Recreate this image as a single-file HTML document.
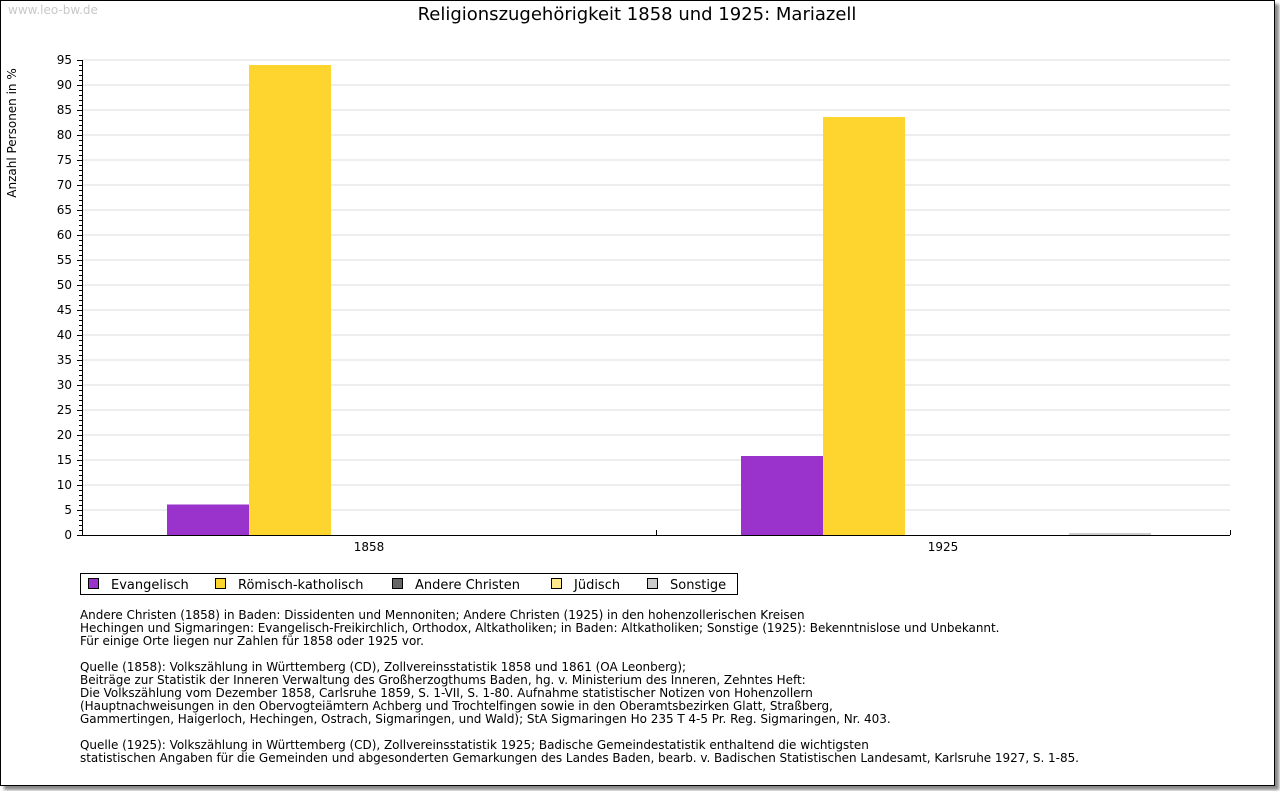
<!DOCTYPE html>
<html><head><meta charset="utf-8"><style>
body{margin:0;background:#fff;width:1280px;height:791px;overflow:hidden;font-family:"DejaVu Sans","Liberation Sans",sans-serif}
#frame{position:absolute;left:0;top:0;width:1273px;height:784px;border:1px solid #000;box-shadow:4px 4px 3px #888;background:#fff}
.t{position:absolute;white-space:pre;font-size:12px;color:#000}
#notes{position:absolute;left:80px;top:609px;font-size:12px;line-height:13px;white-space:pre;letter-spacing:-0.03px}
</style></head><body>
<div id="frame"></div>
<div class="t" style="left:8px;top:3px;color:#c8c8c8;font-size:12px">www.leo-bw.de</div>
<div class="t" style="left:0;width:1274px;text-align:center;top:4px;font-size:18px">Religionszugehörigkeit 1858 und 1925: Mariazell</div>
<svg id="chart" width="1280" height="600" style="position:absolute;left:0;top:0"></svg>
<div id="notes">Andere Christen (1858) in Baden: Dissidenten und Mennoniten; Andere Christen (1925) in den hohenzollerischen Kreisen
Hechingen und Sigmaringen: Evangelisch-Freikirchlich, Orthodox, Altkatholiken; in Baden: Altkatholiken; Sonstige (1925): Bekenntnislose und Unbekannt.
Für einige Orte liegen nur Zahlen für 1858 oder 1925 vor.

Quelle (1858): Volkszählung in Württemberg (CD), Zollvereinsstatistik 1858 und 1861 (OA Leonberg);
Beiträge zur Statistik der Inneren Verwaltung des Großherzogthums Baden, hg. v. Ministerium des Inneren, Zehntes Heft:
Die Volkszählung vom Dezember 1858, Carlsruhe 1859, S. 1-VII, S. 1-80. Aufnahme statistischer Notizen von Hohenzollern
(Hauptnachweisungen in den Obervogteiämtern Achberg und Trochtelfingen sowie in den Oberamtsbezirken Glatt, Straßberg,
Gammertingen, Haigerloch, Hechingen, Ostrach, Sigmaringen, und Wald); StA Sigmaringen Ho 235 T 4-5 Pr. Reg. Sigmaringen, Nr. 403.

Quelle (1925): Volkszählung in Württemberg (CD), Zollvereinsstatistik 1925; Badische Gemeindestatistik enthaltend die wichtigsten
statistischen Angaben für die Gemeinden und abgesonderten Gemarkungen des Landes Baden, bearb. v. Badischen Statistischen Landesamt, Karlsruhe 1927, S. 1-85.</div>
<script>
const categories=["1858","1925"];
const seriesNames=["Evangelisch","Römisch-katholisch","Andere Christen","Jüdisch","Sonstige"];
const seriesColors=["#9933cc","#fdd52e","#666666","#ffe98a","#cccccc"];
const evangelisch=[6.1,15.8];
const katholisch=[94,83.6];
const andere=[0,0];
const juedisch=[0,0];
const sonstige=[0,0.4];
const yTicks=[0,5,10,15,20,25,30,35,40,45,50,55,60,65,70,75,80,85,90,95];
const series=[evangelisch,katholisch,andere,juedisch,sonstige];
const NS="http://www.w3.org/2000/svg";
const svg=document.getElementById('chart');
const X0=82,X1=1230,Y0=535,Y1=60,YMAX=95;
const y=v=>Y0-(v/YMAX)*(Y0-Y1);
const groupW=(X1-X0)/categories.length, barW=82;
const x=(c,s)=>X0+c*groupW+(groupW-barW*series.length)/2+3+s*barW;
function mk(tag,attrs){const e=document.createElementNS(NS,tag);for(const k in attrs)e.setAttribute(k,attrs[k]);svg.appendChild(e);return e;}
yTicks.forEach(t=>{
  if(t>0){const g=mk('line',{x1:X0,x2:X1,y1:y(t),y2:y(t),stroke:'#dcdcdc','stroke-width':1});
  
  }
  const tl=mk('text',{x:72,y:y(t)+4,'text-anchor':'end','font-size':12,'font-family':'DejaVu Sans, sans-serif'});
  tl.textContent=t;
  
  
});
for(let v=0;v<=YMAX;v++){mk('line',{x1:X0-(v%5?3:5),x2:X0,y1:y(v)+0.5,y2:y(v)+0.5,stroke:'#000'});}
series.forEach((vals,s)=>{vals.forEach((v,c)=>{
  if(v<=0)return;
  const r=mk('rect',{x:x(c,s),y:y(v),width:barW,height:Y0-y(v),fill:seriesColors[s]});
  
  
});});
mk('line',{x1:X0+0.5,x2:X0+0.5,y1:Y1,y2:Y0,stroke:'#000'});
mk('line',{x1:X0,x2:X1,y1:Y0+0.5,y2:Y0+0.5,stroke:'#000'});
[X0+groupW,X1].forEach(px=>mk('line',{x1:px+0.5,x2:px+0.5,y1:Y0-5,y2:Y0,stroke:'#000'}));
categories.forEach((c,i)=>{
  const t=mk('text',{x:X0+groupW*(i+0.5),y:551,'text-anchor':'middle','font-size':12,'font-family':'DejaVu Sans, sans-serif'});
  t.textContent=c;
  
  
});
const yt=mk('text',{transform:'translate(16,133) rotate(-90)','text-anchor':'middle','font-size':12,'font-family':'DejaVu Sans, sans-serif'});
yt.textContent='Anzahl Personen in %';


const lb=mk('rect',{x:80.5,y:573.5,width:657,height:21,fill:'none',stroke:'#000'});


const lx=[88,215,392,551,647];
seriesNames.forEach((n,i)=>{
  const r=mk('rect',{x:lx[i]+0.5,y:578.5,width:10,height:10,fill:seriesColors[i],stroke:'#000'});
  
  
  const t=mk('text',{x:lx[i]+23,y:589,'font-size':13,'font-family':'DejaVu Sans, sans-serif'});
  t.textContent=n;
  
  
});
</script>
</body></html>
